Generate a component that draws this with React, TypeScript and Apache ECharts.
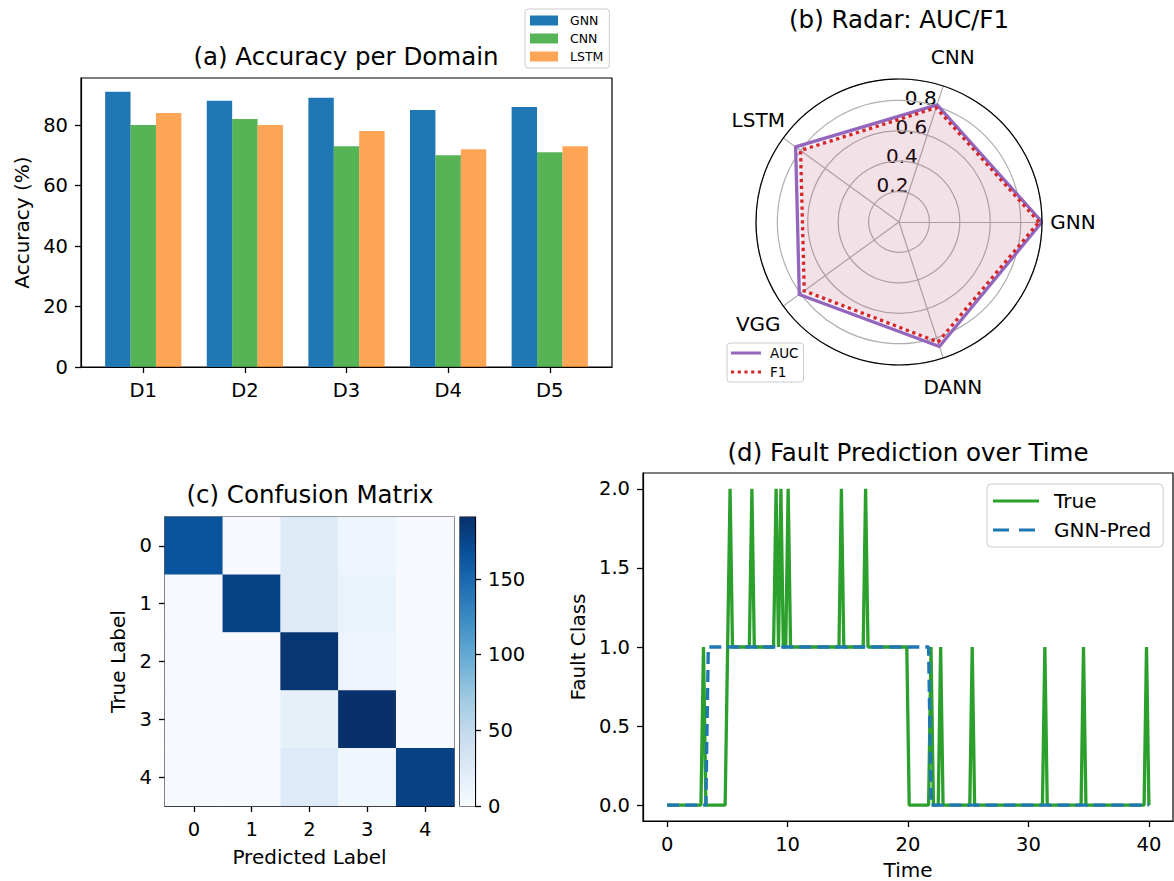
import React, { useEffect, useRef } from 'react';
import * as echarts from 'echarts';

const FONT = 'DejaVu Sans';

// (a) accuracy per domain
const domains = ['D1', 'D2', 'D3', 'D4', 'D5'];
const gnnAcc = [91, 88, 89, 85, 86];
const cnnAcc = [80, 82, 73, 70, 71];
const lstmAcc = [84, 80, 78, 72, 73];
const accTicks = [0, 20, 40, 60, 80];

// (b) radar
const radarModels = ['GNN', 'CNN', 'LSTM', 'VGG', 'DANN'];
const aucValues = [0.94, 0.81, 0.84, 0.81, 0.86];
const f1Values = [0.92, 0.79, 0.8, 0.77, 0.83];
const radarTicks = [0.2, 0.4, 0.6, 0.8];

// (c) confusion matrix
const cmLabels = ['0', '1', '2', '3', '4'];
const confusion = [
  [165, 1, 24, 9, 1],
  [1, 178, 24, 12, 1],
  [1, 1, 187, 10, 1],
  [1, 1, 17, 191, 1],
  [1, 1, 25, 7, 179],
];
const cbarTicks = [0, 50, 100, 150];

// (d) fault prediction over time
const trueTime = [0, 2.81, 3.02, 3.22, 4.82, 5.23, 5.43, 6.83, 7.04, 7.24, 8.84, 9.05, 9.25, 9.45, 9.65, 9.85, 10.05, 10.25, 14.27, 14.47, 14.67, 16.28, 16.48, 16.68, 19.9, 20.1, 21.71, 21.91, 22.11, 22.51, 22.71, 22.91, 25.13, 25.33, 25.53, 31.16, 31.36, 31.56, 34.37, 34.57, 34.77, 39.6, 39.8, 40];
const trueClass = [0, 0, 1, 0, 0, 2, 1, 1, 2, 1, 1, 2, 1, 2, 1, 1, 2, 1, 1, 2, 1, 1, 2, 1, 1, 0, 0, 1, 0, 0, 1, 0, 0, 1, 0, 0, 1, 0, 0, 1, 0, 0, 1, 0];
const predTime = [0, 3.22, 3.42, 21.71, 21.91, 40];
const predClass = [0, 0, 1, 1, 0, 0];
const timeTicks = [0, 10, 20, 30, 40];
const classTicks = [0, 0.5, 1, 1.5, 2];

const BLUES = ['#f7fbff', '#deebf7', '#c6dbef', '#9ecae1', '#6baed6', '#4292c6', '#2171b5', '#08519c', '#08306b'];

export default function App() {
  const ref = useRef<HTMLDivElement>(null);
  useEffect(() => {
    if (!ref.current) return;
    const chart = echarts.init(ref.current, undefined, { renderer: 'svg' });

    const radarMax = Math.max(...aucValues, ...f1Values);
    const cmMax = Math.max(...confusion.flat());
    const RC = { cx: 899, cy: 222, r: 143 };
    const deg = Math.PI / 180;
    const step = 360 / radarModels.length;

    const tick = { show: true, inside: false, length: 6, lineStyle: { color: '#000', width: 1.3 } };
    const lbl = { color: '#000', fontSize: 19.5, fontFamily: FONT, margin: 13 };
    const nameStyle = { color: '#000', fontSize: 20, fontFamily: FONT };
    const axLine = { show: true, onZero: false, lineStyle: { color: '#000', width: 1.2 } };
    const frame = { show: true, borderColor: '#000', borderWidth: 1.2, backgroundColor: 'transparent', outerBoundsMode: 'none', containLabel: false };

    const heatData: number[][] = [];
    confusion.forEach((row, r) => row.forEach((v, c) => heatData.push([c, r, v])));

    const gradStops = BLUES.map((c, i) => ({ offset: i / (BLUES.length - 1), color: c }));

    const graphics: any[] = [];
    radarModels.forEach((name, i) => {
      const a = i * step * deg;
      graphics.push({
        type: 'text',
        x: RC.cx + 174 * Math.cos(a),
        y: RC.cy - 174 * Math.sin(a),
        style: { text: name, fontSize: 20, fontFamily: FONT, fill: '#000', align: 'center', verticalAlign: 'middle', textAlign: 'center', textVerticalAlign: 'middle' },
      });
    });
    radarTicks.forEach((t) => {
      const a = step * deg;
      const rr = (t / radarMax) * RC.r;
      graphics.push({
        type: 'text',
        x: RC.cx + rr * Math.cos(a),
        y: RC.cy - rr * Math.sin(a) + 2,
        style: { text: t.toFixed(1), fontSize: 20, fontFamily: FONT, fill: '#000', align: 'right', verticalAlign: 'bottom', textAlign: 'right', textVerticalAlign: 'bottom' },
      });
    });

    const titleStyle = { color: '#000', fontSize: 24.5, fontWeight: 'normal', fontFamily: FONT };

    chart.setOption({
      animation: false,
      backgroundColor: '#fff',
      textStyle: { fontFamily: FONT },
      title: [
        { text: '(a) Accuracy per Domain', left: 346, top: 44, textAlign: 'center', padding: 0, textStyle: titleStyle },
        { text: '(b) Radar: AUC/F1', left: 899, top: 7, textAlign: 'center', padding: 0, textStyle: titleStyle },
        { text: '(c) Confusion Matrix', left: 310, top: 482, textAlign: 'center', padding: 0, textStyle: titleStyle },
        { text: '(d) Fault Prediction over Time', left: 908, top: 440, textAlign: 'center', padding: 0, textStyle: titleStyle },
      ],
      legend: [
        {
          data: ['GNN', 'CNN', 'LSTM'], left: 525, top: 9, orient: 'vertical', icon: 'rect',
          itemWidth: 28, itemHeight: 10, itemGap: 5, padding: [5, 6, 5, 5],
          borderColor: '#cccccc', borderWidth: 1, borderRadius: 3, backgroundColor: '#fff',
          textStyle: { fontSize: 12.5, fontFamily: FONT, color: '#000', padding: [0, 0, 0, 7] },
        },
        {
          data: [
            { name: 'AUC', icon: 'path://M0,0H30V3H0Z' },
            { name: 'F1', icon: 'path://M0,0H3V3H0ZM6.5,0H9.5V3H6.5ZM13,0H16V3H13ZM19.5,0H22.5V3H19.5ZM26,0H29V3H26Z' },
          ],
          left: 727, top: 343, orient: 'vertical', itemWidth: 30, itemHeight: 3.5, itemGap: 5, padding: [3, 5, 3, 4],
          borderColor: '#cccccc', borderWidth: 1, borderRadius: 3, backgroundColor: '#fff',
          textStyle: { fontSize: 13.5, fontFamily: FONT, color: '#000', padding: [0, 0, 0, 4] },
        },
        {
          data: [
            { name: 'True', icon: 'path://M0,0H46V3H0Z' },
            { name: 'GNN-Pred', icon: 'path://M0,0H16V3H0ZM26,0H42V3H26ZM45.9,0H46V3H45.9Z' },
          ],
          left: 987, top: 484, orient: 'vertical',
          itemWidth: 46, itemHeight: 3.5, itemGap: 9, padding: [7, 12, 7, 6],
          borderColor: '#cccccc', borderWidth: 1, borderRadius: 4, backgroundColor: '#fff',
          textStyle: { fontSize: 20, fontFamily: FONT, color: '#000', padding: [0, 0, 0, 10] },
        },
      ],
      grid: [
        { left: 81, top: 78, width: 531, height: 289, ...frame },
        { left: 165, top: 517, width: 289, height: 289, ...frame },
        { left: 460, top: 517, width: 15, height: 289, ...frame },
        { left: 643, top: 473, width: 530, height: 348, ...frame },
      ],
      xAxis: [
        {
          gridIndex: 0, type: 'value', min: -0.6125, max: 4.6125, position: 'bottom',
          axisLine: axLine, splitLine: { show: false },
          axisTick: { ...tick, customValues: domains.map((_, i) => i) },
          axisLabel: { ...lbl, customValues: domains.map((_, i) => i), formatter: (v: number) => domains[Math.round(v)] ?? '' },
        },
        {
          gridIndex: 1, type: 'category', data: cmLabels, position: 'bottom',
          axisLine: axLine, splitLine: { show: false },
          axisTick: { ...tick, alignWithLabel: true }, axisLabel: { ...lbl },
          name: 'Predicted Label', nameLocation: 'middle', nameGap: 41, nameTextStyle: nameStyle,
        },
        { gridIndex: 2, type: 'category', data: ['scale'], show: false },
        {
          gridIndex: 3, type: 'value', min: -2, max: 42, position: 'bottom',
          axisLine: axLine, splitLine: { show: false },
          axisTick: { ...tick, customValues: timeTicks },
          axisLabel: { ...lbl, customValues: timeTicks },
          name: 'Time', nameLocation: 'middle', nameGap: 39, nameTextStyle: nameStyle,
        },
      ],
      yAxis: [
        {
          gridIndex: 0, type: 'value', min: 0, max: 95.55, position: 'left',
          axisLine: axLine, splitLine: { show: false },
          axisTick: { ...tick, customValues: accTicks },
          axisLabel: { ...lbl, customValues: accTicks },
          name: 'Accuracy (%)', nameLocation: 'middle', nameGap: 49, nameTextStyle: nameStyle,
        },
        {
          gridIndex: 1, type: 'category', data: cmLabels, inverse: true, position: 'left',
          axisLine: axLine, splitLine: { show: false },
          axisTick: { ...tick, alignWithLabel: true }, axisLabel: { ...lbl },
          name: 'True Label', nameLocation: 'middle', nameGap: 37, nameTextStyle: nameStyle,
        },
        {
          gridIndex: 2, type: 'value', min: 0, max: cmMax, position: 'right',
          axisLine: axLine, splitLine: { show: false },
          axisTick: { ...tick, customValues: cbarTicks },
          axisLabel: { ...lbl, customValues: cbarTicks },
        },
        {
          gridIndex: 3, type: 'value', min: -0.1, max: 2.1, position: 'left',
          axisLine: axLine, splitLine: { show: false },
          axisTick: { ...tick, customValues: classTicks },
          axisLabel: { ...lbl, customValues: classTicks, formatter: (v: number) => v.toFixed(1) },
          name: 'Fault Class', nameLocation: 'middle', nameGap: 55, nameTextStyle: nameStyle,
        },
      ],
      polar: { center: [RC.cx, RC.cy], radius: RC.r },
      angleAxis: {
        type: 'value', min: 0, max: 360, startAngle: 0, z: 5,
        axisLine: { show: true, lineStyle: { color: '#000', width: 1.2 } },
        axisTick: { show: false }, axisLabel: { show: false }, splitLine: { show: false },
      },
      radiusAxis: {
        type: 'value', min: 0, max: radarMax, interval: 0.2,
        axisLine: { show: false }, axisTick: { show: false }, axisLabel: { show: false },
        splitLine: { show: true, lineStyle: { color: '#b0b0b0', width: 1.2 } },
      },
      radar: {
        center: [RC.cx, RC.cy], radius: RC.r, startAngle: 0, shape: 'circle', splitNumber: 1,
        indicator: radarModels.map((name) => ({ name, min: 0, max: radarMax })),
        axisName: { show: false },
        splitLine: { show: false }, splitArea: { show: false },
        axisLine: { lineStyle: { color: '#b0b0b0', width: 1.2 } },
        axisTick: { show: false }, axisLabel: { show: false },
      },
      visualMap: {
        type: 'continuous', min: 0, max: cmMax, seriesIndex: 3, show: false,
        inRange: { color: BLUES },
      },
      series: [
        { name: 'GNN', type: 'bar', xAxisIndex: 0, yAxisIndex: 0, barWidth: '25%', barGap: '0%', itemStyle: { color: '#1f77b4' }, data: gnnAcc.map((v, i) => [i, v]) },
        { name: 'CNN', type: 'bar', xAxisIndex: 0, yAxisIndex: 0, barWidth: '25%', barGap: '0%', itemStyle: { color: 'rgba(44,160,44,0.8)' }, data: cnnAcc.map((v, i) => [i, v]) },
        { name: 'LSTM', type: 'bar', xAxisIndex: 0, yAxisIndex: 0, barWidth: '25%', barGap: '0%', itemStyle: { color: 'rgba(255,127,14,0.7)' }, data: lstmAcc.map((v, i) => [i, v]) },
        {
          name: 'confusion', type: 'heatmap', xAxisIndex: 1, yAxisIndex: 1, data: heatData,
          emphasis: { disabled: true },
        },
        {
          name: 'colorbar', type: 'bar', xAxisIndex: 2, yAxisIndex: 2, barWidth: '100%', data: [cmMax],
          itemStyle: { color: new echarts.graphic.LinearGradient(0, 1, 0, 0, gradStops) },
        },
        {
          name: 'radar', type: 'radar', radarIndex: 0, symbol: 'none',
          data: [
            {
              name: 'AUC', value: aucValues, itemStyle: { color: '#9467bd' },
              lineStyle: { color: '#9467bd', width: 3.3 },
              areaStyle: { color: 'rgba(148,103,189,0.12)' },
            },
            {
              name: 'F1', value: f1Values, itemStyle: { color: '#d62728' },
              lineStyle: { color: '#d62728', width: 3.3, type: [3.3, 3.6] },
              areaStyle: { color: 'rgba(214,39,40,0.12)' },
            },
          ],
        },
        {
          name: 'True', type: 'line', xAxisIndex: 3, yAxisIndex: 3, symbol: 'none',
          itemStyle: { color: '#2ca02c' }, lineStyle: { color: '#2ca02c', width: 3.3 },
          data: trueTime.map((t, i) => [t, trueClass[i]]),
        },
        {
          name: 'GNN-Pred', type: 'line', xAxisIndex: 3, yAxisIndex: 3, symbol: 'none',
          itemStyle: { color: '#1f77b4' }, lineStyle: { color: '#1f77b4', width: 3.3, type: [12, 6] },
          data: predTime.map((t, i) => [t, predClass[i]]),
        },
      ],
      graphic: graphics,
    });
    return () => chart.dispose();
  }, []);
  return <div ref={ref} style={{ position: 'fixed', left: 0, top: 0, width: 1174, height: 881 }} />;
}
